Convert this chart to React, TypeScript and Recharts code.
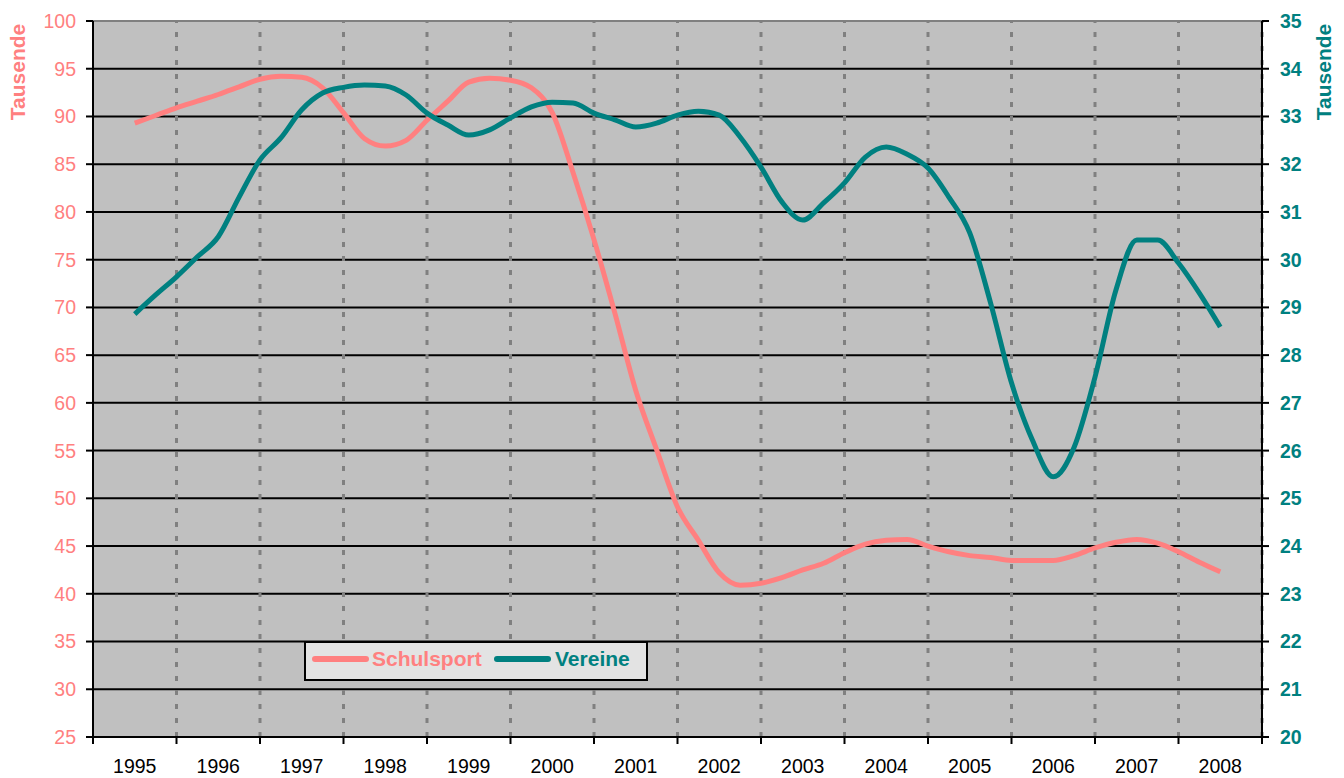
import {
  ComposedChart,
  Line,
  XAxis,
  YAxis,
  CartesianGrid,
  ReferenceLine,
} from "recharts";

// quarterly readings, 1995 .. 2008
const periods = [
  1995, 1995.25, 1995.5, 1995.75, 1996, 1996.25, 1996.5, 1996.75,
  1997, 1997.25, 1997.5, 1997.75, 1998, 1998.25, 1998.5, 1998.75,
  1999, 1999.25, 1999.5, 1999.75, 2000, 2000.25, 2000.5, 2000.75,
  2001, 2001.25, 2001.5, 2001.75, 2002, 2002.25, 2002.5, 2002.75,
  2003, 2003.25, 2003.5, 2003.75, 2004, 2004.25, 2004.5, 2004.75,
  2005, 2005.25, 2005.5, 2005.75, 2006, 2006.25, 2006.5, 2006.75,
  2007, 2007.25, 2007.5, 2007.75, 2008,
];

// Schulsport, left axis (Tausende)
const schulsport = [
  89.3, 90.1, 90.9, 91.6, 92.3, 93.1, 93.9, 94.2,
  94.1, 93.0, 90.4, 87.7, 86.9, 87.5, 89.6, 91.6,
  93.6, 94.0, 93.8, 93.0, 90.4, 84.1, 77.1, 69.4,
  61.3, 55.1, 49.1, 45.6, 42.2, 40.9, 41.1, 41.7,
  42.5, 43.2, 44.3, 45.2, 45.6, 45.7, 45.0, 44.4,
  44.0, 43.8, 43.5, 43.5, 43.5, 44.0, 44.8, 45.4,
  45.7, 45.3, 44.4, 43.3, 42.3,
];

// Vereine, right axis (Tausende)
const vereine = [
  28.86, 29.26, 29.64, 30.06, 30.48, 31.31, 32.09, 32.55,
  33.14, 33.49, 33.61, 33.66, 33.64, 33.45, 33.07, 32.82,
  32.61, 32.72, 32.97, 33.2, 33.3, 33.28, 33.07, 32.93,
  32.78, 32.86, 33.03, 33.11, 33.03, 32.57, 31.94, 31.21,
  30.83, 31.19, 31.61, 32.15, 32.36, 32.21, 31.92, 31.31,
  30.56, 29.09, 27.42, 26.22, 25.45, 26.07, 27.54, 29.36,
  30.41, 30.41, 29.93, 29.3, 28.59,
];

const years = [
  1995, 1996, 1997, 1998, 1999, 2000, 2001, 2002, 2003, 2004, 2005, 2006,
  2007, 2008,
];
const leftTicks = [25, 30, 35, 40, 45, 50, 55, 60, 65, 70, 75, 80, 85, 90, 95, 100];
const rightTicks = [20, 21, 22, 23, 24, 25, 26, 27, 28, 29, 30, 31, 32, 33, 34, 35];

const PINK = "#FF8080";
const TEAL = "#008080";
const FONT = "'Liberation Sans', Arial, sans-serif";

const data = periods.map((t, i) => ({
  t,
  schulsport: schulsport[i],
  vereine: vereine[i],
}));

const bounds = [...years.map((y) => y - 0.5), years[years.length - 1] + 0.5];
const xTicks = [...bounds, ...years].sort((a, b) => a - b);

const XTick = ({ x, y, payload }: any) => {
  if (Number.isInteger(payload.value)) {
    return (
      <text x={x} y={y + 36} textAnchor="middle" fill="#000" fontSize={19.5} fontFamily={FONT}>
        {payload.value}
      </text>
    );
  }
  return <line x1={x} x2={x} y1={y} y2={y + 7} stroke="#000" strokeWidth={2} />;
};

const axisTitle = (x: number, color: string) => () => (
  <text
    x={0}
    y={0}
    transform={`translate(${x} 72) rotate(-90)`}
    textAnchor="middle"
    fill={color}
    fontSize={21}
    fontWeight="bold"
    fontFamily={FONT}
  >
    Tausende
  </text>
);

const LegendBox = () => (
  <div
    style={{
      position: "absolute",
      left: 304,
      top: 641,
      width: 340,
      height: 36,
      background: "#E3E3E3",
      border: "2px solid #000",
      fontFamily: FONT,
      fontWeight: "bold",
      fontSize: 21,
    }}
  >
    <div style={{ position: "absolute", left: 6, top: 13, width: 57, height: 6, borderRadius: 3, background: PINK }} />
    <div style={{ position: "absolute", left: 66, top: 4, color: PINK }}>Schulsport</div>
    <div style={{ position: "absolute", left: 188, top: 13, width: 57, height: 6, borderRadius: 3, background: TEAL }} />
    <div style={{ position: "absolute", left: 249, top: 4, color: TEAL }}>Vereine</div>
  </div>
);

export default function App() {
  return (
    <div style={{ position: "absolute", left: 0, top: 0, width: 1344, height: 778, background: "#fff" }}>
      <ComposedChart
        width={1344}
        height={778}
        data={data}
        margin={{ top: 21, right: 0, bottom: 0, left: 0 }}
      >
        <CartesianGrid
          yAxisId="left"
          vertical={false}
          stroke="#000"
          strokeWidth={2}
          fill="#C0C0C0"
          fillOpacity={1}
        />
        {bounds.slice(1).map((b) => (
          <ReferenceLine
            key={b}
            yAxisId="left"
            x={b}
            stroke="#808080"
            strokeWidth={3}
            strokeDasharray="5 9"
          />
        ))}
        <ReferenceLine yAxisId="left" y={100} stroke="#808080" strokeWidth={2} />
        <XAxis
          dataKey="t"
          type="number"
          domain={[1994.5, 2008.5]}
          ticks={xTicks}
          interval={0}
          height={41}
          tickLine={false}
          tickSize={0}
          tickMargin={0}
          tick={<XTick />}
          axisLine={{ stroke: "#000", strokeWidth: 2 }}
        />
        <YAxis
          yAxisId="left"
          domain={[25, 100]}
          ticks={leftTicks}
          interval={0}
          width={93}
          tickSize={7}
          tickMargin={10}
          tick={{ fill: PINK, fontSize: 19.5, fontFamily: FONT }}
          tickLine={{ stroke: "#000", strokeWidth: 2 }}
          axisLine={{ stroke: "#000", strokeWidth: 2 }}
          label={{ content: axisTitle(25, PINK) }}
        />
        <YAxis
          yAxisId="right"
          orientation="right"
          domain={[20, 35]}
          ticks={rightTicks}
          interval={0}
          width={82}
          tickSize={7}
          tickMargin={11}
          tick={{ fill: TEAL, fontSize: 19.5, fontWeight: "bold", fontFamily: FONT }}
          tickLine={{ stroke: "#000", strokeWidth: 2 }}
          axisLine={{ stroke: "#000", strokeWidth: 2 }}
          label={{ content: axisTitle(1331, TEAL) }}
        />
        <Line
          yAxisId="left"
          type="monotone"
          dataKey="schulsport"
          name="Schulsport"
          stroke={PINK}
          strokeWidth={5}
          dot={false}
          isAnimationActive={false}
        />
        <Line
          yAxisId="right"
          type="monotone"
          dataKey="vereine"
          name="Vereine"
          stroke={TEAL}
          strokeWidth={5}
          dot={false}
          isAnimationActive={false}
        />
      </ComposedChart>
      <LegendBox />
    </div>
  );
}
